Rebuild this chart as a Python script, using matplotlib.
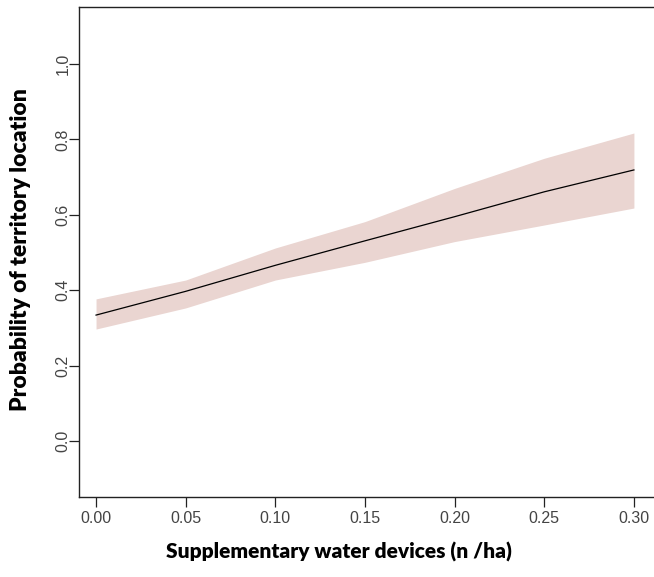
import numpy as np
import matplotlib
matplotlib.use("Agg")
import matplotlib.pyplot as plt

# --- Data ---
water_devices = [0.00, 0.05, 0.10, 0.15, 0.20, 0.25, 0.30]
prob_fit = [0.334, 0.397, 0.466, 0.531, 0.595, 0.661, 0.719]
prob_upper = [0.377, 0.427, 0.512, 0.582, 0.670, 0.750, 0.817]
prob_lower = [0.297, 0.353, 0.427, 0.474, 0.529, 0.573, 0.618]

x_ticks = [0.00, 0.05, 0.10, 0.15, 0.20, 0.25, 0.30]
y_ticks = [0.0, 0.2, 0.4, 0.6, 0.8, 1.0]

fig = plt.figure(figsize=(6.54, 5.77), dpi=100)
ax = fig.add_axes([79 / 654, 1 - 497 / 577, 1 - 79 / 654, (497 - 7) / 577])

ax.fill_between(water_devices, prob_lower, prob_upper, color='#EAD5D1', linewidth=0)
ax.plot(water_devices, prob_fit, color='black', linewidth=0.9)

ax.set_xlim(-0.0095, 0.3112)
ax.set_ylim(-0.1485, 1.1512)

ax.spines['right'].set_visible(False)
for s in ['left', 'bottom', 'top']:
    ax.spines[s].set_linewidth(1.0)
    ax.spines[s].set_color('#222222')

tick_font = {'family': 'Liberation Sans', 'size': 11.5, 'color': '#444444'}
ax.set_xticks(x_ticks)
ax.set_xticklabels([f"{v:.2f}" for v in x_ticks], fontdict=tick_font)
ax.set_yticks(y_ticks)
ax.set_yticklabels([f"{v:.1f}" for v in y_ticks], fontdict=tick_font, rotation=90, va='center')
ax.tick_params(direction='out', length=7, width=0.9, color='#222222')
ax.tick_params(axis='x', pad=3)
ax.tick_params(axis='y', pad=-1)

label_font = {'family': 'Lato', 'weight': 'heavy'}
fig.text(339 / 654, 1 - 552 / 577, "Supplementary water devices (n /ha)", ha='center', va='center',
         fontdict=label_font, fontsize=15)
fig.text(21 / 654, 1 - 250 / 577, "Probability of territory location", ha='center', va='center', rotation=90,
         fontdict=label_font, fontsize=16.5)

fig.savefig('out.png', dpi=100)
